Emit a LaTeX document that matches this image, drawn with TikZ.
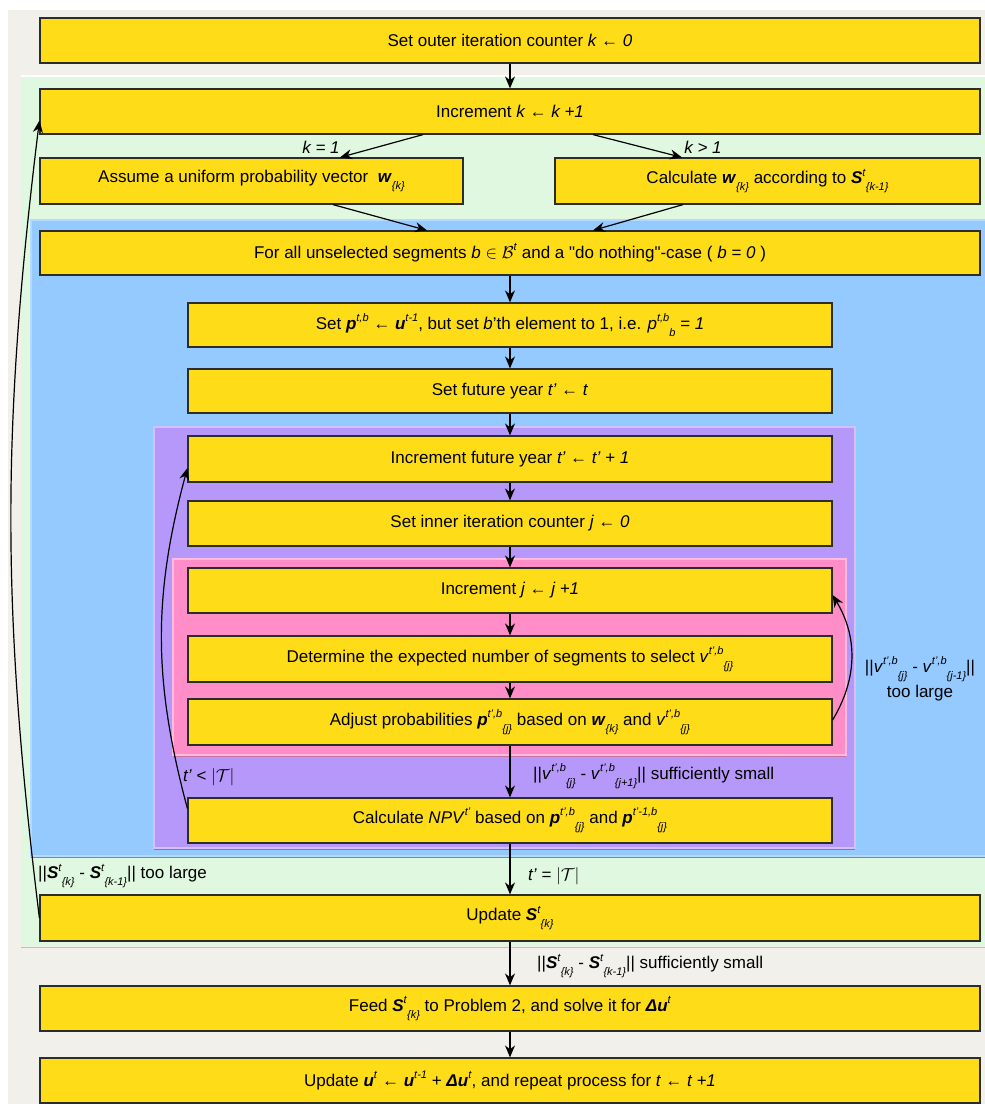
\documentclass[tikz,border=0pt]{standalone}
\usepackage{fontspec}
\setmainfont{Liberation Sans}
\usetikzlibrary{arrows.meta,shadows}
\definecolor{boxfill}{RGB}{254,220,24}
\definecolor{boxline}{RGB}{45,45,40}
\definecolor{greybg}{RGB}{241,240,234}
\definecolor{greenbg}{RGB}{223,248,223}
\definecolor{bluebg}{RGB}{148,202,255}
\definecolor{purplebg}{RGB}{182,152,250}
\definecolor{pinkbg}{RGB}{255,142,200}
\newcommand{\bi}[1]{\textbf{\textit{#1}}}
\newcommand{\upr}[1]{\raisebox{0.85ex}{\fontsize{11}{11}\selectfont\textit{#1}}}
\newcommand{\dnr}[1]{\raisebox{-0.8ex}{\fontsize{11}{11}\selectfont\textit{#1}}}
\begin{document}
\begin{tikzpicture}[x=1pt,y=-1pt,
  box/.style={draw=boxline, fill=boxfill, line width=1.2pt, inner sep=0pt,
    font=\fontsize{17}{20}\selectfont,
    drop shadow={shadow xshift=1pt, shadow yshift=-1pt, opacity=0.35, fill=black}},
  wide/.style={box, minimum width=940pt, minimum height=45pt},
  mid/.style={box, minimum width=644pt, minimum height=45pt},
  half/.style={box, minimum height=46pt},
  arr/.style={line width=1.2pt, draw=black, -{Stealth[length=12pt,width=10pt]}},
  lbl/.style={font=\fontsize{17}{20}\selectfont, inner sep=0pt, text=black},
  region/.style={line width=1.4pt}
]
\useasboundingbox (0,0) rectangle (985,1104);
\fill[white] (0,0) rectangle (985,1104);
% background panels
\fill[greybg] (8,10) rectangle (985,1104);
\fill[greenbg] (21,76) rectangle (990,946);
\draw[white, line width=1.4pt] (21,76) -- (985,76);
\draw[black!25, line width=1pt] (21,947) -- (985,947);
\filldraw[region, fill=bluebg, draw=bluebg!70!white] (31,220) rectangle (990,856);
\draw[bluebg!70!black, line width=1pt] (31,857) -- (985,857);
\filldraw[region, fill=purplebg, draw=purplebg!60!white] (154,427) rectangle (855,848);
\draw[purplebg!75!black, line width=1pt] (154,849) -- (855,849);
\filldraw[region, fill=pinkbg, draw=pinkbg!60!white] (173,559) rectangle (846,755);
\draw[pinkbg!80!black, line width=1pt] (173,756) -- (846,756);

% boxes
\node[wide] (b1) at (510,40.5) {Set outer iteration counter \textit{k ← 0}};
\node[wide] (b2) at (510,111.5) {Increment \textit{k ← k +1}};
\node[half, minimum width=423pt] (b3) at (251.5,181) {Assume a uniform probability vector\ \ \bi{w}\dnr{\{k\}}};
\node[half, minimum width=425pt] (b4) at (767.5,181) {Calculate \bi{w}\dnr{\{k\}} according to \bi{S}\upr{t}\dnr{\{k-1\}}};
\node[wide, minimum height=44pt] (b5) at (510,253) {For all unselected segments \textit{b} $\in$ $\mathcal{B}$\upr{t} and a \textquotedbl do nothing\textquotedbl-case ( \textit{b = 0} )};
\node[mid, minimum height=44pt] (b6) at (510,325) {Set \bi{p}\upr{t,b} ← \bi{u}\upr{t-1}, but set \textit{b}'th element to 1, i.e. \textit{p}\upr{t,b}\dnr{b} \textit{= 1}};
\node[mid, minimum height=44pt] (b7) at (510,391) {Set future year \textit{t' ← t}};
\node[mid, minimum height=46pt] (b8) at (510,459) {Increment future year \textit{t' ← t' + 1}};
\node[mid] (b9) at (510,523.5) {Set inner iteration counter \textit{j ← 0}};
\node[mid] (b10) at (510,590.5) {Increment \textit{j ← j +1}};
\node[mid, minimum height=46pt] (b11) at (510,659) {Determine the expected number of segments to select \textit{v}\upr{t',b}\dnr{\{j\}}};
\node[mid, minimum height=46pt] (b12) at (510,722) {Adjust probabilities \bi{p}\upr{t',b}\dnr{\{j\}} based on \bi{w}\dnr{\{k\}} and \textit{v}\upr{t',b}\dnr{\{j\}}};
\node[mid] (b13) at (510,820.5) {Calculate \textit{NPV}\upr{t'} based on \bi{p}\upr{t',b}\dnr{\{j\}} and \bi{p}\upr{t'-1,b}\dnr{\{j\}}};
\node[wide, minimum height=46pt] (b14) at (510,918) {Update \bi{S}\upr{t}\dnr{\{k\}}};
\node[wide] (b15) at (510,1008.5) {Feed \bi{S}\upr{t}\dnr{\{k\}} to Problem 2, and solve it for \bi{Δu}\upr{t}};
\node[wide] (b16) at (510,1080.5) {Update \bi{u}\upr{t} ← \bi{u}\upr{t-1} + \bi{Δu}\upr{t}, and repeat process for \textit{t ← t +1}};

% connectors
\draw[arr] (b1) -- (b2);
\draw[arr] ([xshift=-87pt]b2.south) -- ([xshift=88.5pt]b3.north);
\draw[arr] ([xshift=83pt]b2.south) -- ([xshift=-85.5pt]b4.north);
\draw[arr] ([xshift=81.5pt]b3.south) -- ([xshift=-83pt]b5.north);
\draw[arr] ([xshift=-84.5pt]b4.south) -- ([xshift=83pt]b5.north);
\draw[arr] (b5) -- (b6);
\draw[arr] (b6) -- (b7);
\draw[arr] (b7) -- (b8);
\draw[arr] (b8) -- (b9);
\draw[arr] (b9) -- (b10);
\draw[arr] (b10) -- (b11);
\draw[arr] (b11) -- (b12);
\draw[arr] (b12) -- (b13);
\draw[arr] (b13) -- (b14);
\draw[arr] (b14) -- (b15);
\draw[arr] (b15) -- (b16);
\draw[arr] ([yshift=2pt]b12.east) to[bend right=31] ([yshift=-4.5pt]b10.east);
\draw[arr] ([yshift=12pt]b13.west) to[bend left=15] ([yshift=-9pt]b8.west);
\draw[arr] (b14.west) to[bend left=7] ([yshift=-9pt]b2.west);

% labels
\node[lbl] (lk1) at (321,147) {\textit{k = 1}};
\node[lbl] (lk2) at (703,147) {\textit{k > 1}};
\node[lbl, align=center] (lvl) at (920,679) {||\textit{v}\upr{t',b}\dnr{\{j\}} - \textit{v}\upr{t',b}\dnr{\{j-1\}}||\\[3pt]too large};
\node[lbl, anchor=west] (ltl) at (183,777) {\textit{t' <} $|\mathcal{T}|$};
\node[lbl, anchor=west] (lvs) at (533,776) {||\textit{v}\upr{t',b}\dnr{\{j\}} - \textit{v}\upr{t',b}\dnr{\{j+1\}}|| sufficiently small};
\node[lbl, anchor=west] (lte) at (528,876) {\textit{t' =} $|\mathcal{T}|$};
\node[lbl, anchor=west] (lsl) at (38,876) {||\bi{S}\upr{t}\dnr{\{k\}} - \bi{S}\upr{t}\dnr{\{k-1\}}|| too large};
\node[lbl, anchor=west] (lss) at (537,966) {||\bi{S}\upr{t}\dnr{\{k\}} - \bi{S}\upr{t}\dnr{\{k-1\}}|| sufficiently small};
\end{tikzpicture}
\end{document}
